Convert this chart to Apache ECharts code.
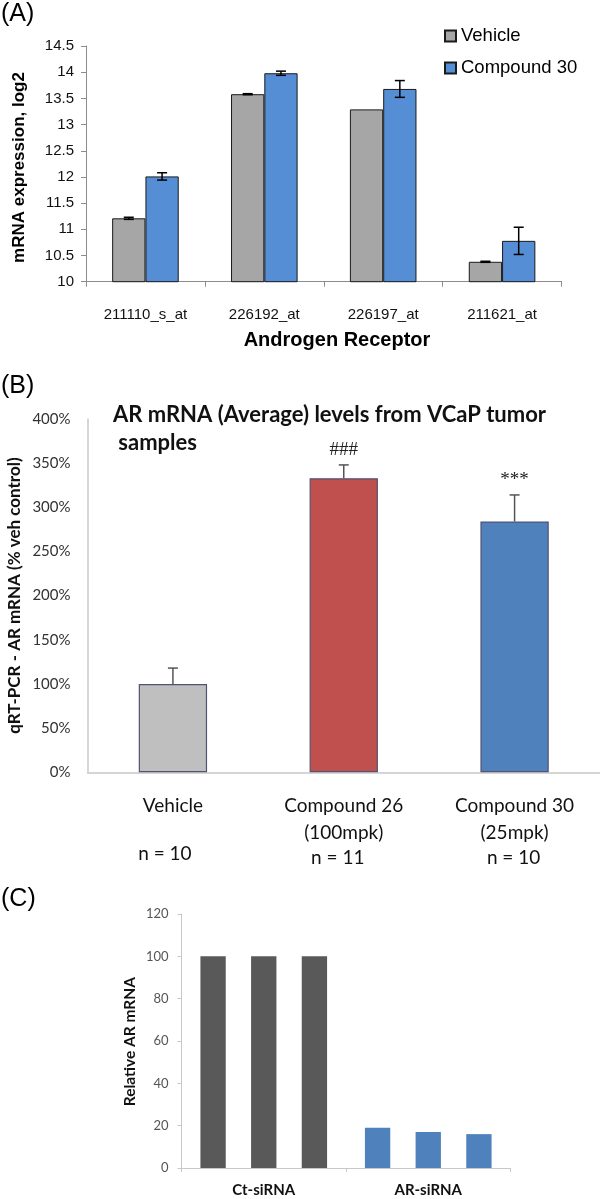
<!DOCTYPE html>
<html>
<head>
<meta charset="utf-8">
<script src="https://cdn.jsdelivr.net/npm/echarts/dist/echarts.min.js"></script>
<style>html,body{margin:0;padding:0;background:#fff}#c{width:600px;height:1199px}</style>
</head>
<body>
<div id="c"></div>
<script>
// ---------- Panel A data ----------
const probesA = ['211110_s_at', '226192_at', '226197_at', '211621_at'];
const vehicleA = [11.21, 13.58, 13.29, 10.38];
const vehicleErrA = [0.02, 0.01, 0.0, 0.01];
const compoundA = [12.01, 13.98, 13.68, 10.78];
const compoundErrA = [0.07, 0.04, 0.16, 0.26];
const seriesNamesA = ['Vehicle', 'Compound 30'];
// ---------- Panel B data ----------
const groupsB = ['Vehicle', 'Compound 26\n(100mpk)', 'Compound 30\n(25mpk)'];
const valuesB = [100, 333, 284];
const errB = [18, 15, 30];
const sigB = ['', '###', '***'];
const nB = ['n = 10', 'n = 11', 'n = 10'];
// ---------- Panel C data ----------
const groupsC = ['Ct-siRNA', 'AR-siRNA'];
const rep1C = [100, 19];
const rep2C = [100, 17];
const rep3C = [100, 16];

const SANS = '"Liberation Sans", Arial, sans-serif';
const CAL = 'Lato, "Open Sans", sans-serif';
const colorsA = ['#a6a6a6', '#558ed5'];
const colorsB = ['#bfbfbf', '#c0504d', '#4f81bd'];
const bordersB = ['#6e6e6e', '#b5453f', '#4576b0'];
const colorsC = ['#595959', '#4f81bd'];
const gapA = 0.44, gapB = 0.60;

function errRender(opts) {
  return function (params, api) {
    const idx = api.value(0), v = api.value(1), e = api.value(2);
    const band = api.size([1, 0])[0];
    const barW = band * (1 - opts.gap) / opts.n;
    const x = api.coord([idx, v])[0] + opts.offset * barW;
    const top = api.coord([idx, v + e])[1];
    const bot = api.coord([idx, opts.both ? v - e : v])[1];
    const children = [];
    const st = { stroke: opts.color, lineWidth: opts.lw };
    if (e > 0) {
      children.push({ type: 'line', shape: { x1: x, y1: top, x2: x, y2: bot }, style: st });
      children.push({ type: 'line', shape: { x1: x - opts.cap, y1: top, x2: x + opts.cap, y2: top }, style: st });
      if (opts.both) children.push({ type: 'line', shape: { x1: x - opts.cap, y1: bot, x2: x + opts.cap, y2: bot }, style: st });
    }
    if (opts.sig && opts.sig[idx]) {
      children.push({ type: 'text', x: x, y: top - 15,
        style: { text: opts.sig[idx], align: 'center', verticalAlign: 'middle',
          font: '19px "Liberation Serif", "Times New Roman", serif', fill: '#222' } });
    }
    return { type: 'group', children: children };
  };
}

const chart = echarts.init(document.getElementById('c'), null, { renderer: 'canvas' });

const option = {
  backgroundColor: '#fff',
  animation: false,
  grid: [
    { left: 86, top: 46, width: 475.5, height: 235.7 },
    { left: 87.5, top: 419, width: 512.5, height: 353.3 },
    { left: 181.5, top: 914, width: 329, height: 254 }
  ],
  legend: {
    data: seriesNamesA, orient: 'vertical', left: 439, top: 21, itemWidth: 11, itemHeight: 11,
    itemGap: 12, icon: 'rect',
    textStyle: { fontFamily: SANS, fontSize: 18.5, color: '#000', lineHeight: 20 }
  },
  xAxis: [
    { gridIndex: 0, type: 'category', data: probesA,
      axisLine: { lineStyle: { color: '#8c8c8c', width: 1 } },
      axisTick: { show: true, length: 5, lineStyle: { color: '#8c8c8c' } },
      axisLabel: { fontFamily: SANS, fontSize: 15, color: '#111', margin: 26 } },
    { gridIndex: 1, type: 'category', data: groupsB,
      axisLine: { lineStyle: { color: '#c8c8c8', width: 1.5 } },
      axisTick: { show: false },
      axisLabel: { fontFamily: CAL, fontSize: 19, color: '#111', margin: 20, lineHeight: 27 } },
    { gridIndex: 2, type: 'category', data: groupsC,
      axisLine: { lineStyle: { color: '#c8c8c8', width: 1 } },
      axisTick: { show: true, length: 4, lineStyle: { color: '#c8c8c8' } },
      axisLabel: { fontFamily: CAL, fontSize: 15, fontWeight: 'bold', color: '#111', margin: 15 } }
  ],
  yAxis: [
    { gridIndex: 0, type: 'value', min: 10, max: 14.5, interval: 0.5,
      splitLine: { show: false },
      axisLine: { show: true, lineStyle: { color: '#8c8c8c' } },
      axisTick: { show: true, length: 5, lineStyle: { color: '#8c8c8c' } },
      axisLabel: { fontFamily: SANS, fontSize: 15, color: '#111', margin: 12 } },
    { gridIndex: 1, type: 'value', min: 0, max: 400, interval: 50,
      splitLine: { show: false },
      axisLine: { show: true, lineStyle: { color: '#c8c8c8', width: 1.5 } },
      axisTick: { show: false },
      axisLabel: { fontFamily: CAL, fontSize: 15, color: '#333', margin: 17, formatter: '{value}%' } },
    { gridIndex: 2, type: 'value', min: 0, max: 120, interval: 20,
      splitLine: { show: false },
      axisLine: { show: true, lineStyle: { color: '#c8c8c8' } },
      axisTick: { show: true, length: 4, lineStyle: { color: '#c8c8c8' } },
      axisLabel: { fontFamily: CAL, fontSize: 13, color: '#555', margin: 13 } }
  ],
  series: [
    { name: seriesNamesA[0], type: 'bar', xAxisIndex: 0, yAxisIndex: 0, data: vehicleA,
      barGap: '0%', barCategoryGap: (gapA * 100) + '%',
      itemStyle: { color: colorsA[0], borderColor: '#1a1a1a', borderWidth: 1 } },
    { name: seriesNamesA[1], type: 'bar', xAxisIndex: 0, yAxisIndex: 0, data: compoundA,
      barGap: '0%', barCategoryGap: (gapA * 100) + '%',
      itemStyle: { color: colorsA[1], borderColor: '#1a1a1a', borderWidth: 1 } },
    { type: 'custom', xAxisIndex: 0, yAxisIndex: 0, z: 5,
      renderItem: errRender({ gap: gapA, n: 2, offset: -0.5, both: true, color: '#000', lw: 1.5, cap: 5 }),
      data: vehicleA.map((v, i) => [i, v, vehicleErrA[i]]) },
    { type: 'custom', xAxisIndex: 0, yAxisIndex: 0, z: 5,
      renderItem: errRender({ gap: gapA, n: 2, offset: 0.5, both: true, color: '#000', lw: 1.5, cap: 5 }),
      data: compoundA.map((v, i) => [i, v, compoundErrA[i]]) },
    { type: 'bar', xAxisIndex: 1, yAxisIndex: 1, data: valuesB,
      barCategoryGap: (gapB * 100) + '%',
      itemStyle: { color: (p) => colorsB[p.dataIndex], borderColor: (p) => bordersB[p.dataIndex], borderWidth: 1.2 } },
    { type: 'custom', xAxisIndex: 1, yAxisIndex: 1, z: 5,
      renderItem: errRender({ gap: gapB, n: 1, offset: 0, both: false, color: '#555', lw: 1.5, cap: 5, sig: sigB }),
      data: valuesB.map((v, i) => [i, v, errB[i]]) },
    { type: 'bar', xAxisIndex: 2, yAxisIndex: 2, data: rep1C, barGap: '100%', barCategoryGap: '23%',
      itemStyle: { color: (p) => colorsC[p.dataIndex] } },
    { type: 'bar', xAxisIndex: 2, yAxisIndex: 2, data: rep2C, barGap: '100%', barCategoryGap: '23%',
      itemStyle: { color: (p) => colorsC[p.dataIndex] } },
    { type: 'bar', xAxisIndex: 2, yAxisIndex: 2, data: rep3C, barGap: '100%', barCategoryGap: '23%',
      itemStyle: { color: (p) => colorsC[p.dataIndex] } }
  ]
};
chart.setOption(option);

// Free-floating texts: panel letters, axis titles, chart title, n-labels
const nOffsets = [[-8, 854], [-6, 858], [-1, 858]];
const g = [
  { type: 'text', left: 1, top: 2, style: { text: '(A)', font: '25px ' + SANS, fill: '#000' } },
  { type: 'text', left: 1, top: 374, style: { text: '(B)', font: '25px ' + SANS, fill: '#000' } },
  { type: 'text', left: 1, top: 887, style: { text: '(C)', font: '25px ' + SANS, fill: '#000' } },
  { type: 'text', x: 19, y: 167.5, rotation: Math.PI / 2,
    style: { text: 'mRNA expression, log2', font: 'bold 17px ' + SANS, fill: '#000', align: 'center', verticalAlign: 'middle' } },
  { type: 'text', x: 337, y: 340,
    style: { text: 'Androgen Receptor', font: 'bold 20px ' + SANS, fill: '#000', align: 'center', verticalAlign: 'middle' } },
  { type: 'text', x: 113, y: 401,
    style: { text: 'AR mRNA (Average) levels from VCaP tumor\n samples', font: 'bold 22px ' + CAL, lineHeight: 28, fill: '#111', align: 'left', verticalAlign: 'top' } },
  { type: 'text', x: 15, y: 595.6, rotation: Math.PI / 2,
    style: { text: 'qRT-PCR - AR mRNA (% veh control)', font: 'bold 17px ' + CAL, fill: '#111', align: 'center', verticalAlign: 'middle' } },
  { type: 'text', x: 130, y: 1041.6, rotation: Math.PI / 2,
    style: { text: 'Relative AR mRNA', font: 'bold 15.5px ' + CAL, fill: '#111', align: 'center', verticalAlign: 'middle' } }
];
nB.forEach((t, i) => {
  const cx = chart.convertToPixel({ xAxisIndex: 1 }, i);
  g.push({ type: 'text', x: cx + nOffsets[i][0], y: nOffsets[i][1],
    style: { text: t, font: '19px ' + CAL, fill: '#111', align: 'center', verticalAlign: 'middle' } });
});
chart.setOption({ graphic: g });
</script>
</body>
</html>
